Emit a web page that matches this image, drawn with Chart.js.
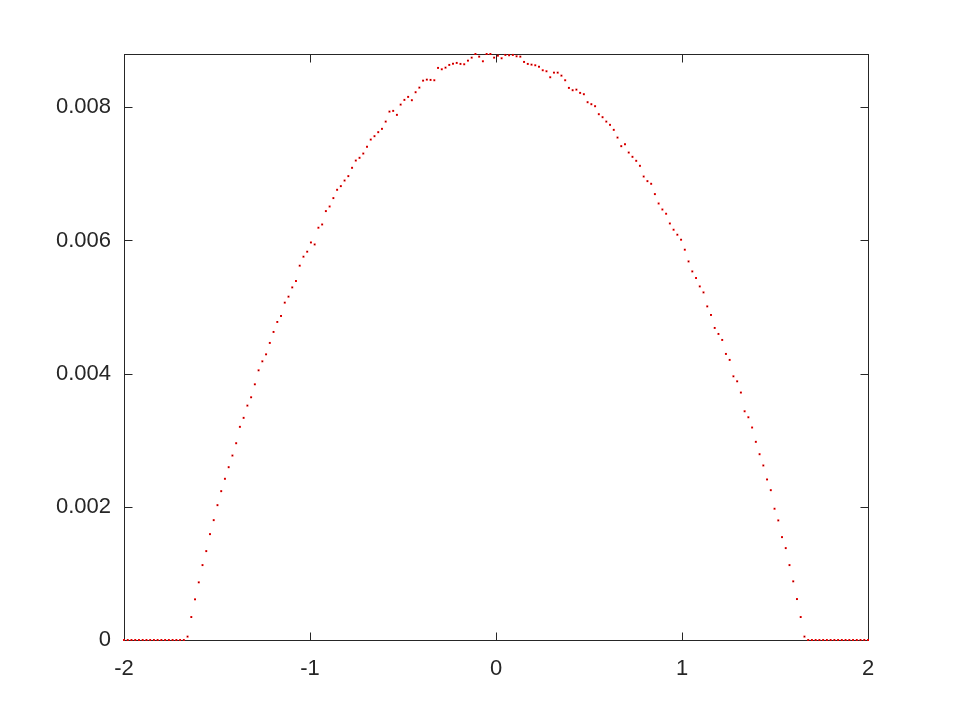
<!DOCTYPE html>
<html>
<head>
<meta charset="utf-8">
<script src="https://cdn.jsdelivr.net/npm/chart.js@4.4.1/dist/chart.umd.min.js"></script>
<style>
  html, body { margin: 0; padding: 0; background: #ffffff; }
  canvas { display: block; }
</style>
</head>
<body>
<canvas id="plot" width="960" height="720"></canvas>
<script>
// x grid, 200 samples from -2 to 2
const xs = [
  -2.0000, -1.9799, -1.9598, -1.9397, -1.9196, -1.8995, -1.8794, -1.8593, -1.8392, -1.8191,
  -1.7990, -1.7789, -1.7588, -1.7387, -1.7186, -1.6985, -1.6784, -1.6583, -1.6382, -1.6181,
  -1.5980, -1.5779, -1.5578, -1.5377, -1.5176, -1.4975, -1.4774, -1.4573, -1.4372, -1.4171,
  -1.3970, -1.3769, -1.3568, -1.3367, -1.3166, -1.2965, -1.2764, -1.2563, -1.2362, -1.2161,
  -1.1960, -1.1759, -1.1558, -1.1357, -1.1156, -1.0955, -1.0754, -1.0553, -1.0352, -1.0151,
  -0.9950, -0.9749, -0.9548, -0.9347, -0.9146, -0.8945, -0.8744, -0.8543, -0.8342, -0.8141,
  -0.7940, -0.7739, -0.7538, -0.7337, -0.7136, -0.6935, -0.6734, -0.6533, -0.6332, -0.6131,
  -0.5930, -0.5729, -0.5528, -0.5327, -0.5126, -0.4925, -0.4724, -0.4523, -0.4322, -0.4121,
  -0.3920, -0.3719, -0.3518, -0.3317, -0.3116, -0.2915, -0.2714, -0.2513, -0.2312, -0.2111,
  -0.1910, -0.1709, -0.1508, -0.1307, -0.1106, -0.0905, -0.0704, -0.0503, -0.0302, -0.0101,
   0.0101,  0.0302,  0.0503,  0.0704,  0.0905,  0.1106,  0.1307,  0.1508,  0.1709,  0.1910,
   0.2111,  0.2312,  0.2513,  0.2714,  0.2915,  0.3116,  0.3317,  0.3518,  0.3719,  0.3920,
   0.4121,  0.4322,  0.4523,  0.4724,  0.4925,  0.5126,  0.5327,  0.5528,  0.5729,  0.5930,
   0.6131,  0.6332,  0.6533,  0.6734,  0.6935,  0.7136,  0.7337,  0.7538,  0.7739,  0.7940,
   0.8141,  0.8342,  0.8543,  0.8744,  0.8945,  0.9146,  0.9347,  0.9548,  0.9749,  0.9950,
   1.0151,  1.0352,  1.0553,  1.0754,  1.0955,  1.1156,  1.1357,  1.1558,  1.1759,  1.1960,
   1.2161,  1.2362,  1.2563,  1.2764,  1.2965,  1.3166,  1.3367,  1.3568,  1.3769,  1.3970,
   1.4171,  1.4372,  1.4573,  1.4774,  1.4975,  1.5176,  1.5377,  1.5578,  1.5779,  1.5980,
   1.6181,  1.6382,  1.6583,  1.6784,  1.6985,  1.7186,  1.7387,  1.7588,  1.7789,  1.7990,
   1.8191,  1.8392,  1.8593,  1.8794,  1.8995,  1.9196,  1.9397,  1.9598,  1.9799,  2.0000
]

// red points
const redY = [
  0, 0, 0, 0, 0, 0, 0, 0, 0, 0,
  0, 0, 0, 0, 0, 0, 0, 0.000051, 0.000345, 0.000611,
  0.000866, 0.001125, 0.001335, 0.001590, 0.001800, 0.002025, 0.002235, 0.002421, 0.002595, 0.002770,
  0.002955, 0.003201, 0.003336, 0.003520, 0.003645, 0.003840, 0.004050, 0.004185, 0.004290, 0.004461,
  0.004626, 0.004776, 0.004866, 0.005066, 0.005156, 0.005295, 0.005391, 0.005621, 0.005756, 0.005831,
  0.005970, 0.005940, 0.006191, 0.006240, 0.006441, 0.006510, 0.006636, 0.006761, 0.006816, 0.006900,
  0.006966, 0.007091, 0.007200, 0.007241, 0.007305, 0.007406, 0.007515, 0.007566, 0.007626, 0.007676,
  0.007785, 0.007935, 0.007946, 0.007886, 0.008040, 0.008111, 0.008156, 0.008106, 0.008226, 0.008295,
  0.008400, 0.008415, 0.008411, 0.008406, 0.008591, 0.008571, 0.008595, 0.008636, 0.008655, 0.008666,
  0.008651, 0.008646, 0.008700, 0.008745, 0.008800, 0.008760, 0.008691, 0.008800, 0.008800, 0.008745,
  0.008775, 0.008736, 0.008786, 0.008781, 0.008786, 0.008766, 0.008760, 0.008681, 0.008651, 0.008640,
  0.008631, 0.008610, 0.008556, 0.008541, 0.008451, 0.008520, 0.008520, 0.008475, 0.008406, 0.008291,
  0.008256, 0.008265, 0.008216, 0.008196, 0.008076, 0.008046, 0.008016, 0.007896, 0.007851, 0.007785,
  0.007736, 0.007661, 0.007545, 0.007416, 0.007446, 0.007320, 0.007256, 0.007196, 0.007121, 0.006960,
  0.006891, 0.006851, 0.006696, 0.006555, 0.006465, 0.006401, 0.006255, 0.006161, 0.006086, 0.006011,
  0.005861, 0.005685, 0.005535, 0.005436, 0.005310, 0.005220, 0.005010, 0.004881, 0.004686, 0.004596,
  0.004506, 0.004296, 0.004206, 0.003960, 0.003885, 0.003716, 0.003435, 0.003345, 0.003191, 0.002976,
  0.002790, 0.002621, 0.002411, 0.002250, 0.001971, 0.001796, 0.001545, 0.001380, 0.001125, 0.000881,
  0.000615, 0.000345, 0.000051, 0, 0, 0, 0, 0, 0, 0,
  0, 0, 0, 0, 0, 0, 0, 0, 0, 0
]

// black points sit under the red ones
const blackY = redY

const xTicks = [-2, -1, 0, 1, 2]
const yTicks = [0, 0.002, 0.004, 0.006, 0.008]

const axisColor = '#262626'
const tickFont = { family: 'Liberation Sans', size: 22 }

function toPoints(ys){
    return xs.map((x, i) => ({ x: x, y: ys[i] }))
}

// gnuplot style box with inward ticks on all four sides
const frame = {
    id: 'frame',
    beforeDatasetsDraw(chart){
        const ctx = chart.ctx
        const a = chart.chartArea
        const sx = chart.scales.x
        const sy = chart.scales.y
        const len = 8
        ctx.save()
        ctx.strokeStyle = axisColor
        ctx.lineWidth = 1
        ctx.translate(0.5, 0.5)
        ctx.strokeRect(a.left, a.top, a.right - a.left, a.bottom - a.top)
        ctx.beginPath()
        xTicks.forEach(v => {
            const px = Math.round(sx.getPixelForValue(v))
            ctx.moveTo(px, a.bottom); ctx.lineTo(px, a.bottom - len)
            ctx.moveTo(px, a.top); ctx.lineTo(px, a.top + len)
        })
        yTicks.forEach(v => {
            const py = Math.round(sy.getPixelForValue(v))
            ctx.moveTo(a.left, py); ctx.lineTo(a.left + len, py)
            ctx.moveTo(a.right, py); ctx.lineTo(a.right - len, py)
        })
        ctx.stroke()
        ctx.restore()
    }
}

const chart = new Chart(document.getElementById('plot'), {
    type: 'scatter',
    data: {
        datasets: [
            {
                data: toPoints(blackY),
                showLine: false,
                pointStyle: 'rect',
                pointRadius: 0.5,
                pointBorderWidth: 0,
                backgroundColor: '#000000',
                clip: false
            },
            {
                data: toPoints(redY),
                showLine: false,
                pointStyle: 'rect',
                pointRadius: 1.4,
                pointBorderWidth: 0,
                backgroundColor: '#ff0000',
                clip: false
            }
        ]
    },
    options: {
        responsive: false,
        animation: false,
        layout: {
            padding: { top: 54, right: 92, left: 0, bottom: 0 }
        },
        plugins: {
            legend: { display: false },
            tooltip: { enabled: false }
        },
        scales: {
            x: {
                type: 'linear',
                min: -2,
                max: 2,
                afterBuildTicks: s => { s.ticks = xTicks.map(v => ({ value: v })) },
                afterFit: s => { s.height = 80 },
                grid: { display: false, drawTicks: false },
                border: { display: false },
                ticks: {
                    color: axisColor,
                    font: tickFont,
                    padding: 16,
                    maxRotation: 0,
                    callback: v => String(v)
                }
            },
            y: {
                type: 'linear',
                min: 0,
                max: 0.0088,
                afterBuildTicks: s => { s.ticks = yTicks.map(v => ({ value: v })) },
                afterFit: s => { s.width = 124 },
                grid: { display: false, drawTicks: false },
                border: { display: false },
                ticks: {
                    color: axisColor,
                    font: tickFont,
                    padding: 13,
                    callback: v => v === 0 ? '0' : v.toFixed(3)
                }
            }
        }
    },
    plugins: [frame]
})
</script>
</body>
</html>
